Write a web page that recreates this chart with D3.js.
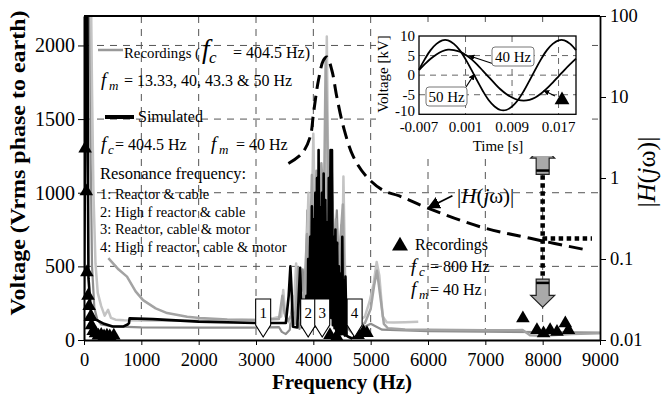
<!DOCTYPE html>
<html>
<head>
<meta charset="utf-8">
<script src="https://cdn.jsdelivr.net/npm/d3@7"></script>
<style>
  body { margin: 0; background: #fff; }
  svg { display: block; }
  svg text { font-family: "Liberation Serif", "Times New Roman", serif; white-space: pre; }
</style>
</head>
<body>
<svg id="chart" width="665" height="398"></svg>
<script>
// ---------- axis ticks ----------
const freqTicks = [0, 1000, 2000, 3000, 4000, 5000, 6000, 7000, 8000, 9000];
const voltTicks = [0, 500, 1000, 1500, 2000];
const gainTicks = [0.01, 0.1, 1, 10, 100];
const gainTickLabels = ["0.01", "0.1", "1", "10", "100"];

// ---------- recorded spectra, fc = 404.5 Hz  [Hz, Vrms] ----------
const recordedLight = [[120,2400],[140,1700],[165,1000],[200,520],[240,320],[300,230],[360,165],[420,205],[470,150],[550,138],[700,134],[1000,132],[1500,130],[2000,132],[2500,134],[3000,138],[3300,148],[3440,160],[3475,340],[3510,160],[3580,120],[3660,210],[3700,520],[3740,180],[3800,320],[3850,150],[3915,1000],[3950,330],[4000,1400],[4040,520],[4080,820],[4120,420],[4165,1150],[4200,620],[4235,2060],[4268,780],[4300,1000],[4340,420],[4380,720],[4420,300],[4460,640],[4495,220],[4525,1110],[4560,300],[4620,150],[4700,120],[4800,130],[4900,160],[4980,260],[5050,380],[5105,530],[5150,440],[5210,160],[5280,120],[5400,118],[5600,120],[5830,124]];
const recordedMid = [[425,556],[600,480],[750,430],[900,330],[1030,271],[1250,215],[1450,183],[1800,158],[2020,149],[2500,140],[3000,135],[3400,142],[3460,300],[3500,180],[3560,130],[3620,170],[3680,110],[3735,490],[3775,130],[3830,220],[3890,720],[3925,300],[3975,1120],[4010,480],[4055,1150],[4095,700],[4140,1200],[4185,900],[4215,1900],[4255,1180],[4290,600],[4320,1180],[4355,500],[4395,820],[4435,360],[4475,700],[4515,920],[4550,200],[4600,110],[4700,90],[4800,100],[4900,115],[5000,210],[5060,370],[5110,470],[5170,290],[5230,110],[5300,80],[5600,72],[6000,70],[7000,66],[7500,66],[7650,68],[7780,32],[8000,28],[8500,40],[9000,45]];
const recordedDark = [[100,2400],[118,1200],[140,500],[180,220],[230,140],[300,105],[500,92],[1000,86],[2000,84],[3000,84],[3400,88],[3450,55],[3520,40],[3590,70],[3640,300],[3690,140],[3760,75],[3815,480],[3855,200],[3895,880],[3935,380],[3990,1000],[4030,560],[4075,1080],[4125,660],[4180,1100],[4212,950],[4250,1250],[4282,880],[4330,980],[4370,580],[4410,880],[4450,380],[4490,780],[4540,280],[4600,80],[4700,40],[4800,60],[4900,90],[5000,110],[5100,90],[5200,70],[6000,60],[7000,57],[8000,54],[9000,50]];

// ---------- simulated spectrum, fc = 404.5 Hz, fm = 40 Hz ----------
const simulated = [[0,340],[45,2400],[60,2400],[70,1000],[78,420],[120,200],[200,140],[350,110],[500,92],[690,92],[760,105],[785,115],[795,147],[1200,142],[2000,125],[3000,115],[3520,115],[3570,300],[3600,500],[3625,300],[3645,90],[3720,85],[3745,300],[3770,490],[3790,200],[3810,85],[3860,90],[3880,300],[3895,60],[3910,550],[3925,80],[3945,700],[3960,90],[3975,907],[3990,120],[4005,820],[4020,90],[4035,1000],[4050,150],[4065,1100],[4080,200],[4092,1290],[4105,150],[4120,900],[4135,100],[4150,1000],[4165,120],[4180,1130],[4195,80],[4210,950],[4225,100],[4240,800],[4255,150],[4270,1100],[4285,200],[4300,1290],[4312,150],[4325,1290],[4340,100],[4355,700],[4370,80],[4385,750],[4400,60],[4415,660],[4430,50],[4445,500],[4460,40],[4475,450],[4490,40],[4505,700],[4520,40],[4535,400],[4550,30],[4560,430],[4580,30],[4620,20],[4680,10]];

// ---------- recorded peaks, fc = 800 Hz, fm = 40 Hz ----------
const recordedPeaks800 = [[20,1300],[40,1010],[50,460],[70,300],[90,230],[110,155],[130,100],[160,60],[200,45],[250,30],[300,35],[350,25],[400,30],[450,25],[520,30],[4290,34],[4410,22],[4470,68],[4780,34],[4875,56],[4935,47],[7655,147],[7900,68],[8015,45],[8130,68],[8250,56],[8395,113],[8450,68]];

// ---------- transfer function magnitude |H(jw)|  [Hz, gain] ----------
const transferGain = [[3565,1.51],[3800,2.0],[3944,3.2],[4002,6.2],[4089,16.1],[4176,28.4],[4236,31.2],[4323,21.4],[4410,10],[4526,4.26],[4700,1.82],[4934,1.03],[5223,0.70],[5500,0.60],[5981,0.43],[6911,0.25],[7784,0.18],[8801,0.128]];

// ---------- resonance markers ----------
const resonanceFreqs = [3125, 3910, 4155, 4720];
const resonanceLabels = ["1", "2", "3", "4"];

// ---------- 8 kHz gain read-out ----------
const readoutFreq = 8000;
const readoutGain = 0.179;
const readoutSpan = [1.08, 0.058];
const readoutEndFreq = 8860;

// ---------- inset: phase voltage in time ----------
const insetTimeMs = [-7,-6,-5,-4,-3,-2,-1,0,1,2,3,4,5,6,7,8,9,10,11,12,13,14,15,16,17,18,19,20];
const wave50Hz = [1.4,4.1,6.4,8.0,8.9,8.9,8.0,6.4,4.1,1.4,-1.4,-4.1,-6.4,-8.0,-8.9,-8.9,-8.0,-6.4,-4.1,-1.4,1.4,4.1,6.4,8.0,8.9,8.9,8.0,6.4];
const wave40Hz = [1.3,2.8,4.2,5.3,6.1,6.5,6.4,6.0,5.2,4.1,2.7,1.1,-0.5,-2.1,-3.6,-4.8,-5.7,-6.3,-6.5,-6.3,-5.7,-4.7,-3.4,-1.9,-0.3,1.3,2.8,4.2];
const insetTimeTicks = [-0.007, 0.001, 0.009, 0.017];
const insetVoltTicks = [-10, -5, 0, 5, 10];

// ================= drawing =================
const SERIF = "Liberation Serif, Times New Roman, serif";
const svg = d3.select("#chart");
const L = 84, R = 600, T = 16, B = 340;

const x = d3.scaleLinear().domain([0, 9000]).range([L, R]);
const y = d3.scaleLinear().domain([0, 2200]).range([B, T]);
const yGain = d3.scaleLog().domain([0.01, 100]).range([B, T]);

svg.append("defs").append("clipPath").attr("id", "plotClip")
  .append("rect").attr("x", L).attr("y", T).attr("width", R - L).attr("height", B - T);

// grid
const grid = svg.append("g").attr("stroke", "#555").attr("stroke-width", 1).attr("stroke-dasharray", "7,6");
grid.selectAll("line.vg").data(freqTicks.filter(d => d > 0 && d < 9000)).join("line")
  .attr("class", "vg").attr("x1", d => x(d)).attr("x2", d => x(d)).attr("y1", T).attr("y2", B);
grid.selectAll("line.hg").data(voltTicks.filter(d => d > 0)).join("line")
  .attr("class", "hg").attr("x1", L).attr("x2", R).attr("y1", d => y(d)).attr("y2", d => y(d));

// spectra
const plot = svg.append("g").attr("clip-path", "url(#plotClip)");
const vLine = d3.line().x(d => x(d[0])).y(d => y(d[1]));
const series = [
  { data: recordedDark, color: "#8e8e8e", w: 2.2 },
  { data: recordedLight, color: "#c4c4c4", w: 2.5 },
  { data: recordedMid, color: "#a3a3a3", w: 2.5 },
  { data: simulated, color: "#000", w: 2.6 }
];
series.forEach(s => {
  plot.append("path").datum(s.data).attr("d", vLine)
    .attr("fill", "none").attr("stroke", s.color).attr("stroke-width", s.w)
    .attr("stroke-linejoin", "round");
});

// |H(jw)| dashed curve
const gLine = d3.line().x(d => x(d[0])).y(d => yGain(d[1])).curve(d3.curveCatmullRom);
plot.append("path").datum(transferGain).attr("d", gLine)
  .attr("fill", "none").attr("stroke", "#000").attr("stroke-width", 3)
  .attr("stroke-dasharray", "14,7");

// fc = 800 Hz peaks
const tri = d3.symbol(d3.symbolTriangle, 80);
svg.append("g").selectAll("path").data(recordedPeaks800).join("path")
  .attr("d", tri).attr("transform", d => `translate(${x(d[0])},${y(d[1])})`).attr("fill", "#000");

// resonance markers
const res = svg.append("g").selectAll("g").data(resonanceFreqs).join("g")
  .attr("transform", d => `translate(${x(d)},${y(20)})`);
res.append("path").attr("d", "M-7.5,-38L7.5,-38L7.5,-12L0,0L-7.5,-12Z")
  .attr("fill", "#fff").attr("stroke", "#000").attr("stroke-width", 1.1);
res.append("text").attr("y", -19).attr("text-anchor", "middle").attr("font-size", 15)
  .text((d, i) => resonanceLabels[i]);

// 8 kHz read-out: dotted guides and grey arrows
const rx = x(readoutFreq);
const dots = svg.append("g").attr("stroke", "#000").attr("stroke-width", 4.5).attr("stroke-dasharray", "4.5,3.5");
dots.append("line").attr("x1", rx).attr("x2", rx).attr("y1", yGain(readoutSpan[0])).attr("y2", yGain(readoutSpan[1]));
dots.append("line").attr("x1", rx).attr("x2", x(readoutEndFreq)).attr("y1", yGain(readoutGain)).attr("y2", yGain(readoutGain));

function blockArrow(cx, baseY, tipY) {
  const dir = tipY < baseY ? -1 : 1;
  const headLen = Math.abs(tipY - baseY) * 0.42;
  const hy = tipY - dir * headLen;
  const p = `M${cx - 6.5},${baseY}L${cx - 6.5},${hy}L${cx - 12},${hy}L${cx},${tipY}L${cx + 12},${hy}L${cx + 6.5},${hy}L${cx + 6.5},${baseY}Z`;
  const g = svg.append("g");
  g.append("path").attr("d", p).attr("fill", "#a9a9a9").attr("stroke", "#222").attr("stroke-width", 1.2);
  g.append("rect").attr("x", cx - 6.5).attr("width", 13).attr("height", 2.5)
    .attr("y", dir < 0 ? baseY - 5 : baseY + 2.5).attr("fill", "#000");
}
blockArrow(rx, yGain(readoutSpan[0]) - 1, yGain(2.46));
blockArrow(rx, yGain(readoutSpan[1]) + 1, yGain(0.0254));

// |H(jw)| call-out inside plot
const tipX = x(5990), tipY = yGain(0.43);
svg.append("defs").append("marker").attr("id", "head").attr("viewBox", "0 0 10 10")
  .attr("refX", 9).attr("refY", 5).attr("markerWidth", 7).attr("markerHeight", 7).attr("orient", "auto")
  .append("path").attr("d", "M0,0L10,5L0,10Z").attr("fill", "#000");
svg.append("line").attr("x1", tipX + 25).attr("y1", tipY - 12).attr("x2", tipX + 1).attr("y2", tipY)
  .attr("stroke", "#000").attr("stroke-width", 1.8).attr("marker-end", "url(#head)");
const hLab = svg.append("text").attr("x", 457).attr("y", 203).attr("font-size", 21);
hLab.append("tspan").text("|");
hLab.append("tspan").attr("font-style", "italic").text("H");
hLab.append("tspan").text("(");
hLab.append("tspan").attr("font-style", "italic").text("j");
hLab.append("tspan").text("ω)|");

// ---------- legend texts ----------
const leg = svg.append("g").attr("fill", "#000");
function rich(x0, yb, parts) {
  const t = leg.append("text").attr("x", x0).attr("y", yb);
  parts.forEach(p => {
    const s = t.append("tspan").text(p.t).attr("font-size", p.s || 16);
    if (p.i) s.attr("font-style", "italic");
    if (p.x != null) s.attr("x", p.x);
    if (p.dy) s.attr("dy", p.dy);
  });
}
leg.append("line").attr("x1", 98).attr("x2", 123).attr("y1", 50).attr("y2", 50).attr("stroke", "#999").attr("stroke-width", 2.5);
rich(124, 58, [{ t: "Recordings (", s: 14.8 }, { t: "f", i: 1, s: 27, x: 202 }, { t: "c", i: 1, s: 17, x: 209, dy: 5 }, { t: "= 404.5 Hz)", s: 16, x: 233, dy: -5 }]);
rich(101, 86, [{ t: "f", i: 1, s: 19 }, { t: "m", i: 1, s: 13, x: 109, dy: 4 }, { t: "= 13.33, 40, 43.3 & 50 Hz", s: 16, x: 124, dy: -4 }]);
leg.append("line").attr("x1", 105).attr("x2", 134).attr("y1", 117).attr("y2", 117).attr("stroke", "#000").attr("stroke-width", 4);
rich(138, 122, [{ t: "Simulated", s: 16 }]);
rich(101, 150, [{ t: "f", i: 1, s: 19 }, { t: "c", i: 1, s: 13, x: 108, dy: 4 }, { t: "= 404.5 Hz", s: 16, x: 115, dy: -4 },
  { t: "f", i: 1, s: 19, x: 211 }, { t: "m", i: 1, s: 13, x: 219, dy: 4 }, { t: "= 40 Hz", s: 16, x: 236, dy: -4 }]);
rich(100, 179, [{ t: "Resonance frequency:", s: 16.5 }]);
["1: Reactor & cable", "2: High f reactor & cable", "3: Reactor, cable & motor", "4: High f reactor, cable & motor"]
  .forEach((s, i) => rich(100, 199 + i * 17.6, [{ t: s, s: 14.5 }]));

leg.append("path").attr("d", d3.symbol(d3.symbolTriangle, 110)).attr("transform", "translate(400,246)");
rich(415, 250, [{ t: "Recordings", s: 16 }]);
rich(411, 272, [{ t: "f", i: 1, s: 19 }, { t: "c", i: 1, s: 13, x: 419, dy: 4 }, { t: "= 800 Hz", s: 16, x: 430, dy: -4 }]);
rich(411, 295, [{ t: "f", i: 1, s: 19 }, { t: "m", i: 1, s: 13, x: 419, dy: 4 }, { t: "= 40 Hz", s: 16, x: 430, dy: -4 }]);

// ---------- inset ----------
const inset = svg.append("g");
inset.append("rect").attr("x", 376).attr("y", 22).attr("width", 216).attr("height", 134).attr("fill", "#fff");
const ix = d3.scaleLinear().domain([-0.007, 0.020]).range([419, 576]);
const iy = d3.scaleLinear().domain([-10, 10]).range([114.3, 36]);
const ig = inset.append("g").attr("stroke", "#666").attr("stroke-width", 1).attr("stroke-dasharray", "6,5");
ig.selectAll("line.iv").data(insetTimeTicks.slice(1)).join("line").attr("class", "iv")
  .attr("x1", d => ix(d)).attr("x2", d => ix(d)).attr("y1", 36).attr("y2", 114.3);
ig.selectAll("line.ih").data([-5, 0, 5]).join("line").attr("class", "ih")
  .attr("x1", 419).attr("x2", 576).attr("y1", d => iy(d)).attr("y2", d => iy(d));
const wLine = d3.line().x((d, i) => ix(insetTimeMs[i] / 1000)).y(d => iy(d)).curve(d3.curveCatmullRom);
[wave50Hz, wave40Hz].forEach(w => inset.append("path").datum(w).attr("d", wLine)
  .attr("fill", "none").attr("stroke", "#000").attr("stroke-width", 1.8));
inset.append("rect").attr("x", 419).attr("y", 36).attr("width", 157).attr("height", 78.3)
  .attr("fill", "none").attr("stroke", "#000").attr("stroke-width", 1.3);
inset.selectAll("text.iyl").data(insetVoltTicks).join("text").attr("class", "iyl")
  .attr("x", 415).attr("y", d => iy(d) + (d === -10 ? 2 : 5)).attr("text-anchor", "end").attr("font-size", 15).text(d => d);
inset.selectAll("text.ixl").data(insetTimeTicks).join("text").attr("class", "ixl")
  .attr("x", d => ix(d)).attr("y", 132).attr("text-anchor", "middle").attr("font-size", 15).text(d => d.toFixed(3));
inset.append("text").attr("x", 498).attr("y", 151).attr("text-anchor", "middle").attr("font-size", 15).text("Time [s]");
inset.append("text").attr("transform", "translate(388,74) rotate(-90)").attr("text-anchor", "middle")
  .attr("font-size", 15).text("Voltage [kV]");
function tag(x0, y0, w, h, label) {
  inset.append("rect").attr("x", x0).attr("y", y0).attr("width", w).attr("height", h).attr("rx", 3)
    .attr("fill", "#fff").attr("stroke", "#777").attr("stroke-width", 1);
  inset.append("text").attr("x", x0 + w / 2).attr("y", y0 + h / 2 + 5).attr("text-anchor", "middle")
    .attr("font-size", 15).text(label);
}
inset.append("defs").append("marker").attr("id", "head2").attr("viewBox", "0 0 10 10")
  .attr("refX", 9).attr("refY", 5).attr("markerWidth", 5).attr("markerHeight", 5).attr("orient", "auto")
  .append("path").attr("d", "M0,0L10,5L0,10Z").attr("fill", "#000");
const arrow = (x1, y1, x2, y2) => inset.append("line").attr("x1", x1).attr("y1", y1).attr("x2", x2).attr("y2", y2)
  .attr("stroke", "#000").attr("stroke-width", 1.2).attr("marker-end", "url(#head2)");
arrow(497, 65, ix(0.0016), iy(wave40Hz[8]) + 1);
arrow(466, 87, ix(0.0025), iy(0.2));
arrow(555, 96, ix(0.0143) + 1, iy(-3.9));
tag(492, 47, 42, 19, "40 Hz");
tag(426, 87, 41, 19, "50 Hz");
inset.append("path").attr("d", d3.symbol(d3.symbolTriangle, 95)).attr("transform", "translate(562,100)");

// ---------- axes & frame ----------
const ax = svg.append("g");
ax.append("g").attr("transform", `translate(${L},0)`)
  .call(d3.axisLeft(y).tickValues(voltTicks).tickFormat(d3.format("d")).tickSize(6).tickSizeOuter(0).tickPadding(3))
  .call(g => g.selectAll("text").attr("font-size", 20))
  .call(g => g.select(".domain").attr("stroke-width", 2));
ax.append("g").attr("transform", `translate(0,${B})`)
  .call(d3.axisBottom(x).tickValues(freqTicks).tickFormat(d3.format("d")).tickSize(5).tickSizeOuter(0).tickPadding(8))
  .call(g => g.selectAll("text").attr("font-size", 18.5))
  .call(g => g.select(".domain").attr("stroke-width", 2.2));
ax.append("g").attr("transform", `translate(${R},0)`)
  .call(d3.axisRight(yGain).tickValues(gainTicks).tickFormat((d, i) => gainTickLabels[i]).tickSize(6).tickSizeOuter(0).tickPadding(4))
  .call(g => g.selectAll("text").attr("font-size", 18.5))
  .call(g => g.select(".domain").attr("stroke-width", 1.8));
ax.append("line").attr("x1", L).attr("x2", R).attr("y1", T).attr("y2", T).attr("stroke", "#000").attr("stroke-width", 2);

svg.append("text").attr("x", 342).attr("y", 389).attr("text-anchor", "middle")
  .attr("font-size", 21).attr("font-weight", "bold").text("Frequency (Hz)");
svg.append("text").attr("transform", "translate(25,163) rotate(-90)").attr("text-anchor", "middle")
  .attr("font-size", 21).attr("font-weight", "bold").attr("textLength", 305).attr("lengthAdjust", "spacingAndGlyphs")
  .text("Voltage (Vrms phase to earth)");
const rl = svg.append("text").attr("transform", "translate(655,172) rotate(-90)").attr("text-anchor", "middle").attr("font-size", 26);
rl.append("tspan").text("|");
rl.append("tspan").attr("font-style", "italic").text("H");
rl.append("tspan").text("(");
rl.append("tspan").attr("font-style", "italic").text("j");
rl.append("tspan").text("ω)|");

// every text in the figure uses the serif face
svg.selectAll("text").attr("font-family", SERIF);
</script>
</body>
</html>
